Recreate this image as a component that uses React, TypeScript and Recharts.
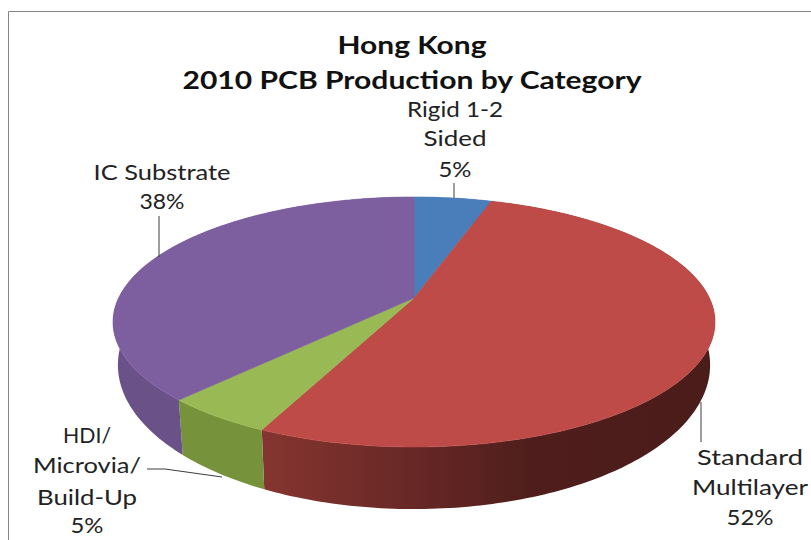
import { Pie, PieChart } from 'recharts';

const CATEGORIES = ['Rigid 1-2 Sided', 'Standard Multilayer', 'HDI/ Microvia/ Build-Up', 'IC Substrate'];
const VALUES = [5, 52, 5, 38];
const TOP_COLORS = ['#4a7ebb', '#be4b48', '#98b954', '#7d5fa0'];
const WALL_COLORS = ['#3a6496', 'url(#redWall)', '#76933c', '#6a5289'];
const TITLE_LINES = ['Hong Kong', '2010 PCB Production by Category'];
const TITLE_WIDTHS = [149, 459];

const data = CATEGORIES.map((name, i) => ({ name, value: VALUES[i] }));

// label placement, in chart pixels. The source image is stretched sideways, so each line has its own width
const LABEL_LAYOUT = [
  { lines: ['Rigid 1-2', 'Sided'], x: 455, y: [117, 146, 177], w: [96, 63, 33], leader: '454,183 454,198' },
  { lines: ['Standard', 'Multilayer'], x: 750, y: [465, 495, 525], w: [106, 116, 47], leader: '701,402 701,442' },
  {
    lines: ['HDI/', 'Microvia/', 'Build-Up'],
    x: 87,
    y: [443, 473, 505, 533],
    w: [48, 108, 100, 33],
    leader: '147,469 165,469 222,477',
  },
  { lines: ['IC Substrate'], x: 162, y: [180, 209], w: [137, 45], leader: '159,216 159,257' },
];

// the 3D look: a circle seen in perspective, k is the foreshortening towards the back
const K = 0.192;
const TOP_FACE = { xScale: 1, yScale: 120.4 / 295.4, dy: 0 };
const BOTTOM_RIM = { xScale: 290.6 / 295.4, yScale: 138.7 / 295.4, dy: 39.4 };

type Plane = typeof TOP_FACE;

function project(cx: number, cy: number, r: number, deg: number, plane: Plane) {
  const u = Math.cos((deg * Math.PI) / 180);
  const v = Math.sin((deg * Math.PI) / 180);
  const w = 1 + K * v;
  return [cx + (r * plane.xScale * u) / w, cy + plane.dy - (r * plane.yScale * v) / w];
}

function arc(cx: number, cy: number, r: number, start: number, end: number, plane: Plane) {
  const steps = Math.max(2, Math.ceil(Math.abs(end - start)));
  const pts: string[] = [];
  for (let i = 0; i <= steps; i++) {
    const p = project(cx, cy, r, start + ((end - start) * i) / steps, plane);
    pts.push(`${p[0].toFixed(2)},${p[1].toFixed(2)}`);
  }
  return pts;
}

function TopSlice(props: any) {
  const { cx, cy, outerRadius, startAngle, endAngle, index } = props;
  const pts = arc(cx, cy, outerRadius, startAngle, endAngle, TOP_FACE);
  const c = TOP_COLORS[index];
  return <polygon points={[`${cx},${cy}`, ...pts].join(' ')} fill={c} stroke={c} strokeWidth={0.6} />;
}

function WallSlice(props: any) {
  const { cx, cy, outerRadius, startAngle, endAngle, index } = props;
  const upper = arc(cx, cy, outerRadius, startAngle, endAngle, TOP_FACE);
  const lower = arc(cx, cy, outerRadius, startAngle, endAngle, BOTTOM_RIM).reverse();
  return <polygon points={[...upper, ...lower].join(' ')} fill={WALL_COLORS[index]} />;
}

function SliceLabel(props: any) {
  const { index, percent } = props;
  const l = LABEL_LAYOUT[index];
  const texts = [...l.lines, `${Math.round(percent * 100)}%`];
  return (
    <g>
      <polyline points={l.leader} fill="none" stroke="#3c3c3c" strokeWidth={1} />
      {texts.map((t, i) => (
        <text
          key={i}
          x={l.x}
          y={l.y[i]}
          textAnchor="middle"
          fontFamily="Lato"
          fontSize={22}
          fill="#222"
          textLength={l.w[i]}
          lengthAdjust="spacingAndGlyphs"
        >
          {t}
        </text>
      ))}
    </g>
  );
}

export default function App() {
  return (
    <div style={{ position: 'absolute', left: 0, top: 0, width: 811, height: 540, background: '#fff' }}>
      <PieChart width={811} height={540} margin={{ top: 0, right: 0, bottom: 0, left: 0 }}>
        <defs>
          <linearGradient id="redWall" gradientUnits="userSpaceOnUse" x1={263} y1={0} x2={710} y2={0}>
            <stop offset="0%" stopColor="#85352f" />
            <stop offset="30%" stopColor="#6b2927" />
            <stop offset="60%" stopColor="#4f1e1c" />
            <stop offset="100%" stopColor="#4a1c1a" />
          </linearGradient>
        </defs>
        <path d="M8.5 540 V11.5 H811" fill="none" stroke="#868686" strokeWidth={1} />
        {TITLE_LINES.map((t, i) => (
          <text
            key={t}
            x={412}
            y={54 + i * 35}
            textAnchor="middle"
            fontFamily="Lato"
            fontWeight={700}
            fontSize={25}
            fill="#111"
            textLength={TITLE_WIDTHS[i]}
            lengthAdjust="spacingAndGlyphs"
          >
            {t}
          </text>
        ))}
        <Pie
          data={data}
          dataKey="value"
          nameKey="name"
          cx={414}
          cy={298}
          innerRadius={0}
          outerRadius={295.4}
          startAngle={90}
          endAngle={-270}
          stroke="none"
          shape={WallSlice}
          isAnimationActive={false}
        />
        <Pie
          data={data}
          dataKey="value"
          nameKey="name"
          cx={414}
          cy={298}
          innerRadius={0}
          outerRadius={295.4}
          startAngle={90}
          endAngle={-270}
          stroke="none"
          shape={TopSlice}
          label={SliceLabel}
          labelLine={false}
          isAnimationActive={false}
        />
      </PieChart>
    </div>
  );
}
